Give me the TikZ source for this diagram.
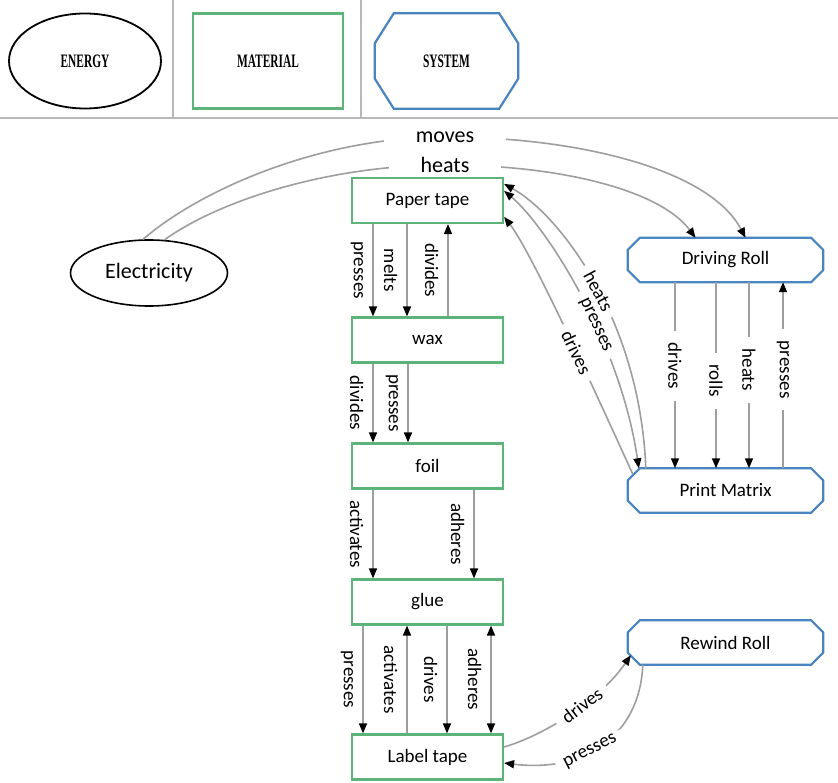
\documentclass[tikz,border=0pt]{standalone}
\usepackage{fontspec}
\setmainfont{Carlito}
\newfontfamily\hdrfont{Liberation Serif}
\usetikzlibrary{arrows.meta,shapes.geometric,calc}
\definecolor{matgreen}{RGB}{92,180,122}
\definecolor{sysblue}{RGB}{72,132,192}
\definecolor{linegray}{RGB}{158,158,158}
\definecolor{sepgray}{RGB}{185,185,185}
\newcommand\sysoct[4]{\draw[#4] ($(#1.north west)+(#2,0)$) -- ($(#1.north east)+(-#2,0)$) -- ($(#1.north east)+(0,#3)$) -- ($(#1.south east)+(0,-#3)$) -- ($(#1.south east)+(-#2,0)$) -- ($(#1.south west)+(#2,0)$) -- ($(#1.south west)+(0,-#3)$) -- ($(#1.north west)+(0,#3)$) -- cycle;}
\newcommand\hdrtext[1]{\scalebox{0.6}[1]{\hdrfont\bfseries\fontsize{19}{21}\selectfont #1}}
\tikzset{Tk/.tip={Triangle[length=10pt,width=8pt,color=black]}}
\begin{document}
\begin{tikzpicture}[x=1pt,y=-1pt,
  matbox/.style={draw=matgreen,line width=2.2pt,minimum width=151pt,minimum height=45pt,inner sep=0pt,font=\fontsize{19}{22}\selectfont},
  sysbox/.style={minimum width=195pt,minimum height=44pt,inner sep=0pt,font=\fontsize{19}{22}\selectfont},
  octline/.style={draw=sysblue,line width=2.2pt},
  link/.style={draw=linegray,line width=1.6pt},
  sidelab/.style={font=\fontsize{19}{22}\selectfont,rotate=-90,anchor=north,inner xsep=1pt,inner ysep=9pt},
  onlab/.style={font=\fontsize{19}{22}\selectfont,rotate=-90,fill=white,inner xsep=12pt,inner ysep=2pt},
  slopelab/.style={font=\fontsize{19}{22}\selectfont,sloped,fill=white,inner xsep=8pt,inner ysep=0pt},
  biglab/.style={font=\fontsize{22}{26}\selectfont,fill=white,inner xsep=32pt,inner ysep=1pt},
  sepline/.style={draw=sepgray,line width=1.6pt}
]
\useasboundingbox (0,0) rectangle (838,783);
\fill[white] (0,0) rectangle (838,783);
% header
\draw[sepline] (173,0) -- (173,117);
\draw[sepline] (361,0) -- (361,117);
\draw[sepline] (0,118) -- (838,118);
\node[draw=black,line width=1.8pt,ellipse,minimum width=152pt,minimum height=95pt,inner sep=0pt] (hE) at (85,61) {\hdrtext{ENERGY}};
\node[draw=matgreen,line width=2.2pt,minimum width=150pt,minimum height=95pt,inner sep=0pt] (hM) at (268,61) {\hdrtext{MATERIAL}};
\node[minimum width=143pt,minimum height=95pt,inner sep=0pt] (hS) at (446.5,61) {\hdrtext{SYSTEM}};
\sysoct{hS}{19}{30}{octline}
% energy
\node[draw=black,line width=1.6pt,ellipse,minimum width=157pt,minimum height=66pt,inner sep=0pt,font=\fontsize{22}{26}\selectfont] (el) at (149,273) {Electricity};
% materials
\node[matbox] (pt) at (427.5,200.5) {Paper tape};
\node[matbox] (wax) at (427.5,340) {wax};
\node[matbox] (foil) at (427.5,466) {foil};
\node[matbox] (glue) at (427.5,602) {glue};
\node[matbox] (lt) at (427.5,757) {Label tape};
% systems
\node[sysbox] (dr) at (725.5,260) {Driving Roll};
\node[sysbox] (pm) at (725.5,490.5) {Print Matrix};
\node[sysbox] (rr) at (725.5,642.5) {Rewind Roll};
\sysoct{dr}{12}{12}{octline}
\sysoct{pm}{12}{12}{octline}
\sysoct{rr}{12}{12}{octline}
% electricity arcs
\draw[link,-Tk] (el.100) .. controls (200,190) and (320,137) .. (445,137) node[biglab]{moves} .. controls (580,137) and (710,170) .. ([xshift=20pt]dr.north);
\draw[link,-Tk] (el.65) .. controls (220,200) and (330,165) .. (445,165) node[biglab]{heats} .. controls (560,165) and (660,190) .. ([xshift=-30pt]dr.north);
% paper tape -> wax
\draw[link,-Tk] ([xshift=-54.5pt]pt.south) -- node[sidelab,midway]{presses} ([xshift=-54.5pt]wax.north);
\draw[link,-Tk] ([xshift=-20.5pt]pt.south) -- node[sidelab,midway]{melts} ([xshift=-20.5pt]wax.north);
\draw[link,-Tk] ([xshift=20.5pt]wax.north) -- node[sidelab,midway]{divides} ([xshift=20.5pt]pt.south);
% wax -> foil
\draw[link,-Tk] ([xshift=-54.5pt]wax.south) -- node[sidelab,midway]{divides} ([xshift=-54.5pt]foil.north);
\draw[link,-Tk] ([xshift=-19.5pt]wax.south) -- node[sidelab,midway]{presses} ([xshift=-19.5pt]foil.north);
% foil -> glue
\draw[link,-Tk] ([xshift=-54.5pt]foil.south) -- node[sidelab,midway]{activates} ([xshift=-54.5pt]glue.north);
\draw[link,-Tk] ([xshift=46.5pt]foil.south) -- node[sidelab,midway]{adheres} ([xshift=46.5pt]glue.north);
% glue <-> label tape
\draw[link,-Tk] ([xshift=-64.5pt]glue.south) -- node[sidelab,midway]{presses} ([xshift=-64.5pt]lt.north);
\draw[link,-Tk] ([xshift=-20.5pt]lt.north) -- node[sidelab,midway]{activates} ([xshift=-20.5pt]glue.south);
\draw[link,-Tk] ([xshift=19.5pt]glue.south) -- node[sidelab,midway]{drives} ([xshift=19.5pt]lt.north);
\draw[link,Tk-Tk] ([xshift=63.5pt]glue.south) -- node[sidelab,midway]{adheres} ([xshift=63.5pt]lt.north);
% driving roll -> print matrix
\draw[link,-Tk] ([xshift=-50.5pt]dr.south) -- node[onlab,pos=0.45]{drives} ([xshift=-50.5pt]pm.north);
\draw[link,-Tk] ([xshift=-9.5pt]dr.south) -- node[onlab,pos=0.53]{rolls} ([xshift=-9.5pt]pm.north);
\draw[link,-Tk] ([xshift=23.5pt]dr.south) -- node[onlab,pos=0.47]{heats} ([xshift=23.5pt]pm.north);
\draw[link,-Tk] ([xshift=57.5pt]pm.north) -- node[onlab,pos=0.53]{presses} ([xshift=57.5pt]dr.south);
% print matrix -> paper tape
\draw[link,Tk-] ([yshift=-7pt]pt.north east) .. controls (560,215) and (640,320) .. ([xshift=18pt]pm.north west) node[slopelab,pos=0.53]{heats};
\draw[link,Tk-Tk] ([yshift=-14pt]pt.north east) .. controls (545,225) and (620,340) .. ([xshift=11pt]pm.north west) node[slopelab,pos=0.6]{presses};
\draw[link,Tk-] ([yshift=-40pt]pt.north east) .. controls (530,250) and (590,380) .. ([xshift=5pt,yshift=-6pt]pm.north west) node[slopelab,pos=0.6]{drives};
% label tape <-> rewind roll
\draw[link,-Tk] ([yshift=10pt]lt.east) .. controls (545,735) and (600,700) .. ([xshift=3pt,yshift=-35pt]rr.north west) node[slopelab,pos=0.58]{drives};
\draw[link,Tk-] ([yshift=-6pt]lt.east) .. controls (585,773) and (640,735) .. ([xshift=15pt]rr.south west) node[slopelab,pos=0.42]{presses};
\end{tikzpicture}
\end{document}
